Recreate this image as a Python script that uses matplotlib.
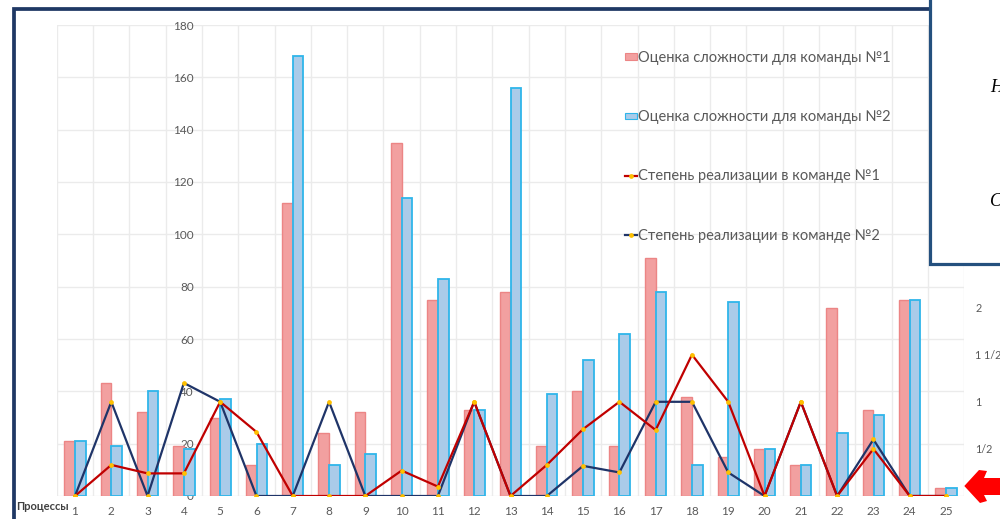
import numpy as np
import matplotlib.pyplot as plt
from matplotlib.lines import Line2D
from matplotlib.patches import Rectangle, Polygon
from matplotlib.ticker import FuncFormatter

plt.rcParams['font.family'] = ['Lato', 'DejaVu Sans']

# data
processes = list(range(1, 26))
complexity_1 = [21, 43, 32, 19, 30, 12, 112, 24, 32, 135, 75, 33, 78,
                19, 40, 19, 91, 38, 15, 18, 12, 72, 33, 75, 3]
complexity_2 = [21, 19, 40, 18, 37, 20, 168, 12, 16, 114, 83, 33, 156,
                39, 52, 62, 78, 12, 74, 18, 12, 24, 31, 75, 3]
realization_1 = [0, 0.33, 0.24, 0.24, 1.0, 0.68, 0, 0, 0, 0.27, 0.1, 1.0, 0,
                 0.33, 0.71, 1.0, 0.7, 1.5, 1.0, 0, 1.0, 0, 0.5, 0, 0]
realization_2 = [0, 1.0, 0, 1.2, 1.0, 0, 0, 1.0, 0, 0, 0, 1.0, 0,
                 0, 0.32, 0.25, 1.0, 1.0, 0.25, 0, 1.0, 0, 0.6, 0, 0]
realization_ticks = [0, 0.5, 1, 1.5, 2]

labels = ['Оценка сложности для команды №1',
          'Оценка сложности для команды №2',
          'Степень реализации в команде №1',
          'Степень реализации в команде №2']

W, H = 1000, 519
fig = plt.figure(figsize=(W / 100, H / 100), dpi=100)
ax = fig.add_axes([56.85 / W, 23 / H, 907.3 / W, 471 / H])

x = np.array(processes)
ax.bar(x - 0.148, complexity_1, width=0.29, color='#F2A0A0',
       edgecolor='#EC8585', linewidth=1.0, zorder=2)
ax.bar(x + 0.148, complexity_2, width=0.29, color='#AACBE9',
       edgecolor='#2FB5EA', linewidth=1.3, zorder=2)

ax.set_xlim(0.5, 25.5)
ax.set_ylim(0, 180)
ax.set_yticks(range(0, 181, 20))
ax.set_xticks(x)
ax.set_xticklabels([str(p) for p in processes])
ax.set_xticks(np.arange(0.5, 26, 1), minor=True)
ax.grid(axis='y', which='major', color='#EBEBEB', lw=1, zorder=0)
ax.grid(axis='x', which='minor', color='#EBEBEB', lw=1, zorder=0)
for s in ax.spines.values():
    s.set_visible(False)
# value axis labels sit in the middle of the plot, next to category 4
ax.spines['left'].set_position(('data', 4.27))
ax.tick_params(axis='y', length=0, pad=0, labelsize=8.5, labelcolor='#595959')
ax.tick_params(axis='x', which='both', length=0, pad=7, labelsize=8.5,
               labelcolor='#595959')

fig.text(16 / W, 1 - 507 / H, 'Процессы', ha='left', va='center',
         fontsize=8, fontweight='bold', color='#404040')

# secondary axis for the realization degree
ax2 = ax.twinx()
ax2.set_ylim(0, 5)
ax2.set_yticks(realization_ticks)


def frac(v, pos):
    whole = int(v)
    half = abs(v - whole) > 1e-9
    if whole == 0 and half:
        return '1/2'
    if half:
        return f'{whole} 1/2'
    return str(whole)


ax2.yaxis.set_major_formatter(FuncFormatter(frac))
ax2.tick_params(axis='y', length=0, pad=8, labelsize=7.8, labelcolor='#595959')
for s in ax2.spines.values():
    s.set_visible(False)

ax2.plot(x, realization_2, color='#1F3468', lw=1.6, marker='o', ms=2.4,
         mfc='#FFC000', mec='#FFC000', zorder=3)
ax2.plot(x, realization_1, color='#C00000', lw=1.6, marker='o', ms=2.4,
         mfc='#FFC000', mec='#FFC000', zorder=4)

handles = [
    Rectangle((0, 0), 1, 1, facecolor='#F2A0A0', edgecolor='#EC8585', lw=0.8),
    Rectangle((0, 0), 1, 1, facecolor='#AACBE9', edgecolor='#2FB5EA', lw=0.8),
    Line2D([], [], color='#C00000', lw=1.6, marker='o', ms=2.4,
           mfc='#FFC000', mec='#FFC000'),
    Line2D([], [], color='#1F3468', lw=1.6, marker='o', ms=2.4,
           mfc='#FFC000', mec='#FFC000'),
]
ax2.legend(handles, labels, loc='upper left', frameon=False,
           bbox_to_anchor=(625 / W, 1 - 51 / H), bbox_transform=fig.transFigure,
           fontsize=10.5, labelcolor='#595959', handlelength=0.8,
           handleheight=0.35, handletextpad=0.1, labelspacing=3.1,
           borderaxespad=0, borderpad=0, numpoints=1)

# window frame around the chart
fig.add_artist(Line2D([13.5 / W, 13.5 / W, 930 / W], [0, 1 - 8.8 / H, 1 - 8.8 / H],
                      transform=fig.transFigure, color='#1F3864', lw=2.7,
                      solid_joinstyle='miter', zorder=10))

# overlapping box at the top right
fig.add_artist(Rectangle((929.5 / W, 1 - 264 / H), 0.2, 0.6,
                         transform=fig.transFigure, facecolor='white',
                         edgecolor='#24507E', lw=2.3, zorder=11))
fig.text(990 / W, 1 - 87 / H, 'Н', fontsize=13, style='italic',
         family='Liberation Serif', va='center', ha='left', zorder=12)
fig.text(990 / W, 1 - 202 / H, 'С', fontsize=13, style='italic',
         family='Liberation Serif', va='center', ha='left', zorder=12)

# red pointer arrow
arrow_px = [(964.3, 486), (979, 470), (987, 471), (984, 478), (1001, 478),
            (1001, 495), (984, 495), (987, 501), (980, 503)]
fig.add_artist(Polygon([(px / W, 1 - py / H) for px, py in arrow_px],
                       closed=True, transform=fig.transFigure,
                       facecolor='#FF0000', edgecolor='none', zorder=12))

fig.savefig('out.png', dpi=100)
